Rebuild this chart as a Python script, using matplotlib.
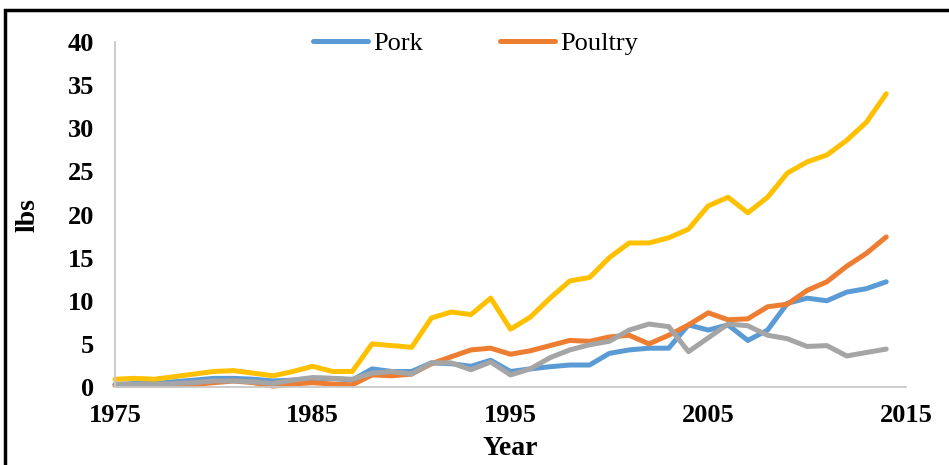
import matplotlib
matplotlib.use('Agg')
import matplotlib.pyplot as plt
from matplotlib.patches import Rectangle

years = list(range(1975, 2015))
pork = [0.3, 0.4, 0.4, 0.6, 0.8, 1.0, 1.0, 0.9, 0.7, 0.8,
        1.0, 1.0, 0.8, 2.1, 1.8, 1.8, 2.8, 2.7, 2.4, 3.1,
        1.8, 2.1, 2.35, 2.55, 2.55, 3.9, 4.3, 4.5, 4.5, 7.2,
        6.6, 7.2, 5.4, 6.6, 9.7, 10.3, 10.0, 11.0, 11.4, 12.2]
poultry = [0.2, 0.2, 0.2, 0.2, 0.3, 0.5, 0.7, 0.5, 0.1, 0.35,
           0.5, 0.35, 0.25, 1.4, 1.3, 1.5, 2.7, 3.5, 4.3, 4.5,
           3.8, 4.2, 4.8, 5.4, 5.3, 5.8, 6.0, 5.0, 6.0, 7.2,
           8.6, 7.8, 7.9, 9.3, 9.6, 11.2, 12.2, 14.0, 15.5, 17.4]
gray_series = [0.3, 0.3, 0.3, 0.4, 0.5, 0.7, 0.7, 0.6, 0.4, 0.8,
               1.1, 1.0, 0.9, 1.6, 1.8, 1.5, 2.8, 2.8, 2.0, 2.9,
               1.4, 2.1, 3.4, 4.3, 4.9, 5.3, 6.6, 7.3, 7.0, 4.1,
               5.7, 7.3, 7.1, 6.0, 5.6, 4.7, 4.8, 3.6, 4.0, 4.4]
yellow_series = [0.9, 1.0, 0.9, 1.2, 1.5, 1.8, 1.9, 1.6, 1.3, 1.8,
                 2.4, 1.8, 1.8, 5.0, 4.8, 4.6, 8.0, 8.7, 8.4, 10.3,
                 6.7, 8.1, 10.3, 12.3, 12.7, 15.0, 16.7, 16.7, 17.3, 18.3,
                 21.0, 22.0, 20.2, 22.0, 24.8, 26.1, 26.9, 28.6, 30.7, 34.0]
xticks = [1975, 1985, 1995, 2005, 2015]
yticks = [0, 5, 10, 15, 20, 25, 30, 35, 40]

plt.rcParams['font.family'] = ['Liberation Serif', 'DejaVu Serif']

fig = plt.figure(figsize=(9.49, 4.65), dpi=100)
ax = fig.add_axes([115/949, 1 - 387/465, 791/949, 345/465])

lw = 3.6
ax.plot(years, pork, color='#5B9BD5', lw=lw, label='Pork', solid_capstyle='round', clip_on=False)
ax.plot(years, poultry, color='#ED7D31', lw=lw, label='Poultry', solid_capstyle='round', clip_on=False)
ax.plot(years, gray_series, color='#A5A5A5', lw=lw, label='_nolegend_', solid_capstyle='round', clip_on=False)
ax.plot(years, yellow_series, color='#FFC000', lw=lw, label='_nolegend_', solid_capstyle='round', clip_on=False)

ax.set_xlim(1975, 2015)
ax.set_ylim(0, 40)
ax.set_xticks(xticks)
ax.set_yticks(yticks)
ax.tick_params(length=0, labelsize=19)
ax.tick_params(axis='x', pad=12)
ax.tick_params(axis='y', pad=15)
for lab in ax.get_xticklabels() + ax.get_yticklabels():
    lab.set_fontweight('bold')

for s in ['top', 'right']:
    ax.spines[s].set_visible(False)
for s in ['left', 'bottom']:
    ax.spines[s].set_color('#C8C8C8')
    ax.spines[s].set_linewidth(1.3)

ax.set_xlabel('Year', fontsize=20, fontweight='bold', labelpad=7)
fig.text(28/949, 1 - 215/465, 'lbs', rotation=90, fontsize=20, fontweight='bold',
         ha='center', va='center')

ax.legend(loc='center', bbox_to_anchor=(0.456, 0.995), ncol=2, frameon=False,
          fontsize=19, handlelength=2.1, columnspacing=2.9, handletextpad=0.2)

# black frame around the picture
fig.patches.append(Rectangle((5/949, -0.2), 1.2, 1 - 10/465 + 0.2, transform=fig.transFigure,
                             fill=False, edgecolor='black', lw=2.5, clip_on=False))

fig.savefig('out.png', dpi=100)
